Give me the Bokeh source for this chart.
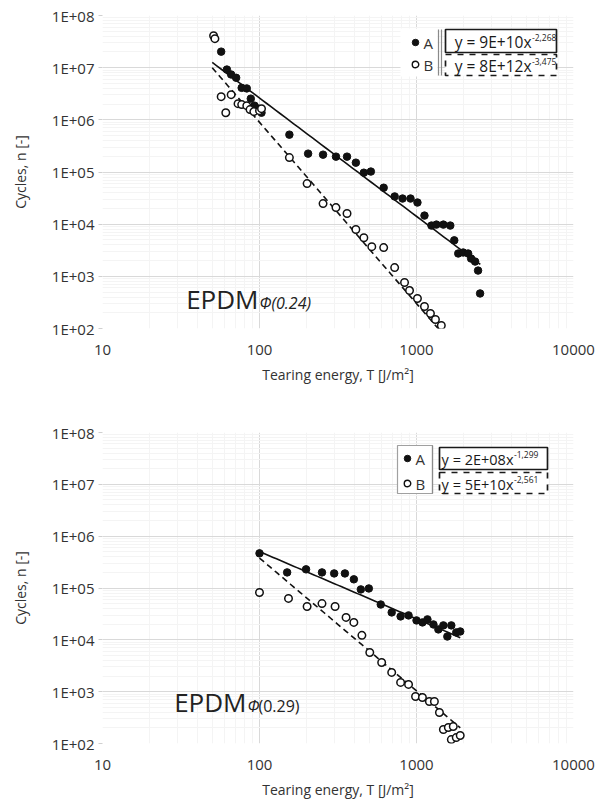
import numpy as np
from bokeh.plotting import figure
from bokeh.layouts import column
from bokeh.models import Range1d, FixedTicker, CustomJSTickFormatter, Label, BoxAnnotation
from bokeh.embed import file_html
from bokeh.resources import INLINE

# ---------------- data ----------------
x_ticks = [10, 100, 1000, 10000]
y_ticks = [1e2, 1e3, 1e4, 1e5, 1e6, 1e7, 1e8]

# EPDM phi(0.24)
top_A_T = [57, 62, 66, 71, 77, 83, 88, 93, 99, 103, 155, 204, 254, 307, 361, 411, 462, 512, 618, 726,
           815, 916, 1014, 1124, 1245, 1339, 1483, 1641, 1740, 1845, 1984, 2133, 2228, 2362, 2467, 2541]
top_A_n = [2.03e7, 9.2e6, 7.4e6, 6.4e6, 4.1e6, 4.0e6, 2.55e6, 1.87e6, 1.64e6, 1.37e6, 5.2e5, 2.25e5,
           2.15e5, 1.97e5, 1.97e5, 1.51e5, 9.7e4, 1.02e5, 5.0e4, 3.4e4, 3.1e4, 3.1e4, 2.6e4, 1.46e4,
           9.4e3, 9.8e3, 9.8e3, 9.4e3, 4.9e3, 2.74e3, 2.86e3, 2.74e3, 2.19e3, 1.92e3, 1.29e3, 470]
top_B_T = [51, 52, 57, 61, 66, 73, 77, 83, 87, 92, 100, 103, 155, 201, 254, 307, 361, 411, 462, 519,
           618, 726, 839, 903, 1014, 1124, 1227, 1320, 1439]
top_B_n = [4.1e7, 3.6e7, 2.78e6, 1.37e6, 3.04e6, 2.04e6, 1.96e6, 1.87e6, 1.57e6, 1.44e6, 1.50e6,
           1.64e6, 1.89e5, 6.0e4, 2.48e4, 2.08e4, 1.60e4, 7.9e3, 5.5e3, 3.7e3, 3.56e3, 1.47e3, 761,
           535, 376, 264, 194, 149, 114]
top_fit_A = [9e10, -2.268]
top_fit_B = [8e12, -3.475]
top_fit_A_range = [50, 2550]
top_fit_B_range = [50, 1450]
top_eq = ["y = 9E+10x", "y = 8E+12x"]
top_eq_exp = ["-2,268", "-3,475"]

# EPDM phi(0.29)
bot_A_T = [100, 150, 198, 250, 299, 350, 399, 442, 497, 592, 695, 792, 890, 1000, 1091, 1174, 1282,
           1378, 1483, 1572, 1666, 1791, 1899]
bot_A_n = [4.66e5, 2.0e5, 2.29e5, 2.0e5, 1.91e5, 1.91e5, 1.47e5, 9.4e4, 9.8e4, 4.8e4, 3.38e4, 2.83e4,
           2.96e4, 2.37e4, 2.17e4, 2.48e4, 1.98e4, 1.59e4, 1.90e4, 1.16e4, 1.90e4, 1.39e4, 1.45e4]
bot_B_T = [100, 153, 201, 250, 303, 356, 399, 449, 504, 600, 695, 792, 890, 986, 1091, 1208, 1300,
           1400, 1483, 1595, 1715, 1666, 1791, 1899]
bot_B_n = [8.2e4, 6.3e4, 4.4e4, 5.0e4, 4.4e4, 2.71e4, 2.17e4, 1.22e4, 5.7e3, 3.66e3, 2.35e3, 1.51e3,
           1.38e3, 808, 773, 647, 647, 397, 186, 204, 213, 119, 130, 143]
bot_fit_A = [2e8, -1.299]
bot_fit_B = [5e10, -2.561]
bot_fit_A_range = [100, 1900]
bot_fit_B_range = [100, 1900]
bot_eq = ["y = 2E+08x", "y = 5E+10x"]
bot_eq_exp = ["-1,299", "-2,561"]

x_title = "Tearing energy, T [J/m²]"
y_title = "Cycles, n [-]"

FONT = "Open Sans"
TXT = "#333333"


def make_chart(height, border_top, frame_h, A_T, A_n, B_T, B_n, fitA, fitB, rA, rB,
               eq, eq_exp, legend, epdm):
    L, W = 102, 471
    border_bottom = height - border_top - frame_h
    p = figure(width=607, height=height, x_axis_type="log", y_axis_type="log",
               x_range=Range1d(10, 10000), y_range=Range1d(100, 1e8),
               output_backend="svg", toolbar_location=None,
               min_border_left=L, min_border_right=607 - L - W,
               min_border_top=border_top, min_border_bottom=border_bottom)
    p.outline_line_color = None
    p.background_fill_color = "white"

    def fx(px):
        return 10 ** (1 + 3 * (px - L) / W)

    def fy(py):
        return 10 ** (8 - 6 * (py - border_top) / frame_h)

    minor_x = [k * 10 ** d for d in range(1, 4) for k in range(2, 10)]
    minor_y = [k * 10 ** d for d in range(2, 8) for k in range(2, 10)]
    p.xaxis.ticker = FixedTicker(ticks=x_ticks, minor_ticks=minor_x)
    p.yaxis.ticker = FixedTicker(ticks=y_ticks, minor_ticks=minor_y)
    p.yaxis.formatter = CustomJSTickFormatter(
        code="const e = Math.round(Math.log10(tick)); return '1E+' + (e < 10 ? '0' : '') + e;")
    p.xaxis.formatter = CustomJSTickFormatter(code="return String(Math.round(tick));")
    for ax in (p.xaxis, p.yaxis):
        ax.axis_line_color = None
        ax.major_tick_line_color = "#d0d0d0"
        ax.major_tick_in = 0
        ax.major_tick_out = 4
        ax.minor_tick_line_color = None
        ax.major_label_text_font = FONT
        ax.major_label_text_font_size = "15px"
        ax.major_label_text_color = TXT
        ax.axis_label_text_font = FONT
        ax.axis_label_text_font_size = "14px"
        ax.axis_label_text_font_style = "normal"
        ax.axis_label_text_color = TXT
    p.xaxis.axis_label = x_title
    p.yaxis.axis_label = y_title
    p.yaxis.major_label_standoff = 4
    p.yaxis.axis_label_standoff = 19
    p.xaxis.major_label_standoff = 12
    p.xaxis.axis_label_standoff = 7
    p.xaxis.major_tick_out = 0
    p.xgrid.grid_line_color = "#d9d9d9"
    p.ygrid.grid_line_color = "#d9d9d9"
    p.xgrid.minor_grid_line_color = "#f4f4f4"
    p.ygrid.minor_grid_line_color = "#f4f4f4"

    # legend backgrounds / boxes (underlay: above the grid, below the marks)
    lg = legend
    bx0 = lg["box"]
    p.add_layout(BoxAnnotation(left=fx(bx0[0]), right=fx(bx0[1]), top=fy(bx0[2]),
                               bottom=fy(bx0[3]), fill_color="white", fill_alpha=1,
                               line_color=lg["box_line"], line_alpha=1, line_width=1.2,
                               level="underlay"))
    for i, dash in enumerate(["solid", "dashed"]):
        bx = lg["eqbox"][i]
        p.add_layout(BoxAnnotation(left=fx(bx[0]), right=fx(bx[1]), top=fy(bx[2]),
                                   bottom=fy(bx[3]), fill_color="white", fill_alpha=1,
                                   line_color="#1a1a1a", line_alpha=1, line_width=1.7,
                                   line_dash=dash, level="underlay"))

    for (c, e), (a, b), dash in ((fitA, rA, "solid"), (fitB, rB, "6 4")):
        xs = np.logspace(np.log10(a), np.log10(b), 60)
        p.line(xs, c * xs ** e, line_color="#111111", line_width=1.6, line_dash=dash)

    p.scatter(A_T, A_n, marker="circle", size=7.5, fill_color="#111111", line_color="#111111")
    p.scatter(B_T, B_n, marker="circle", size=7.5, fill_color="white", line_color="#111111",
              line_width=1.5)

    for xv in lg["vlines"]:
        p.segment(x0=[fx(xv)], x1=[fx(xv)], y0=[fy(lg["vl_y"][0])], y1=[fy(lg["vl_y"][1])],
                  line_color="#8a8a8a", line_width=1.2)
    p.scatter([fx(lg["mx"])], [fy(lg["rows"][0])], marker="circle", size=6.5,
              fill_color="#111111", line_color="#111111")
    p.scatter([fx(lg["mx"])], [fy(lg["rows"][1])], marker="circle", size=6.5,
              fill_color="white", line_color="#111111", line_width=1.4)
    for name, ry in zip(["A", "B"], lg["rows"]):
        p.add_layout(Label(x=fx(lg["lx"]), y=fy(ry), text=name, text_font=FONT,
                           text_font_size="15px", text_color=TXT, text_baseline="middle"))
    for i in range(2):
        bx = lg["eqbox"][i]
        cy = (bx[2] + bx[3]) / 2
        p.add_layout(Label(x=fx(lg["eq_end"]), y=fy(cy + 1), text=eq[i], text_font=FONT,
                           text_font_size=lg["eq_fs"], text_color="#1a1a1a",
                           text_align="right", text_baseline="middle"))
        p.add_layout(Label(x=fx(lg["eq_end"] + 0.5), y=fy(cy - 4), text=eq_exp[i],
                           text_font=FONT, text_font_size="8.5px", text_color="#1a1a1a",
                           text_align="left", text_baseline="middle"))

    ex, eb, sub, sub_style = epdm
    p.add_layout(Label(x=fx(ex), y=fy(eb), text="EPDM", text_font=FONT,
                       text_font_size="26px", text_color="#222222", text_align="right",
                       text_baseline="alphabetic"))
    sx = ex + 1
    if sub_style == "italic":
        p.add_layout(Label(x=fx(sx), y=fy(eb + 4), text=sub, text_font=FONT,
                           text_font_size="16px", text_font_style="italic", text_color="#222222",
                           text_align="left", text_baseline="alphabetic"))
    else:
        p.add_layout(Label(x=fx(sx), y=fy(eb + 4), text="Φ", text_font=FONT,
                           text_font_size="16px", text_font_style="italic", text_color="#222222",
                           text_align="left", text_baseline="alphabetic"))
        p.add_layout(Label(x=fx(sx + 11), y=fy(eb + 4), text=sub[1:], text_font=FONT,
                           text_font_size="16px", text_color="#222222",
                           text_align="left", text_baseline="alphabetic"))
    return p


top_legend = dict(box=(400, 437, 28, 76), box_line=None, vlines=[438, 441], vl_y=[29, 75],
                  mx=415, lx=423, rows=[42, 64],
                  eqbox=[(445, 556, 29, 52), (445, 556, 54, 75)], eq_end=531, eq_fs="15.5px")
p1 = make_chart(405, 15, 313, top_A_T, top_A_n, top_B_T, top_B_n, top_fit_A, top_fit_B,
                top_fit_A_range, top_fit_B_range, top_eq, top_eq_exp, top_legend,
                (258, 298, "Φ(0.24)", "italic"))

bot_legend = dict(box=(397, 432, 445 - 405, 493 - 405), box_line="#a0a0a0", vlines=[432],
                  vl_y=[445 - 405, 493 - 405], mx=407, lx=415, rows=[458 - 405, 483 - 405],
                  eqbox=[(439, 547, 447 - 405, 469 - 405), (439, 547, 472 - 405, 493 - 405)],
                  eq_end=513, eq_fs="14.5px")
p2 = make_chart(405, 27, 311, bot_A_T, bot_A_n, bot_B_T, bot_B_n, bot_fit_A, bot_fit_B,
                bot_fit_A_range, bot_fit_B_range, bot_eq, bot_eq_exp, bot_legend,
                (246, 701 - 405, "Φ(0.29)", "mixed"))

layout = column(p1, p2, spacing=0)
open("out.html", "w").write(file_html(layout, INLINE))
